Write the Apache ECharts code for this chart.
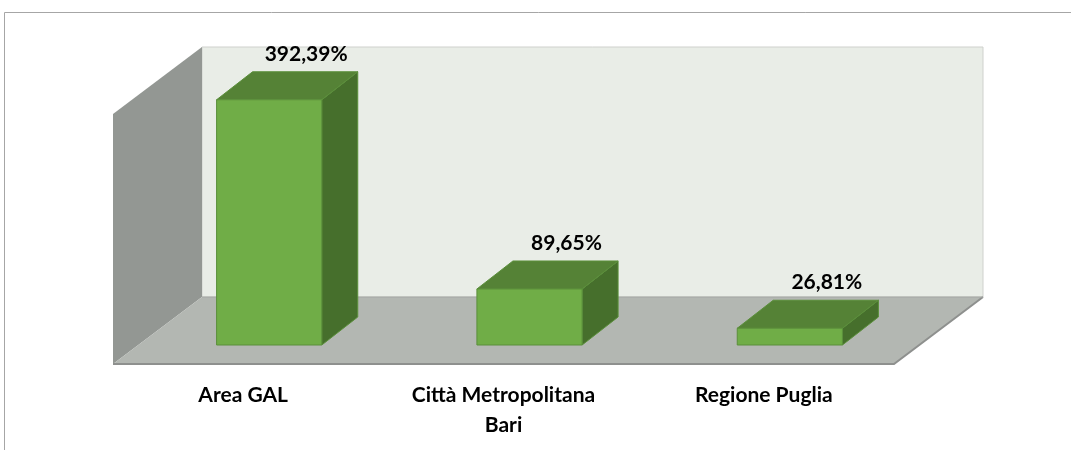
<!DOCTYPE html>
<html>
<head>
<meta charset="utf-8">
<script src="https://cdn.jsdelivr.net/npm/echarts@6/dist/echarts.min.js"></script>
<style>
  html, body { margin: 0; padding: 0; background: #fff; }
  #chart { width: 1071px; height: 450px; }
</style>
</head>
<body>
<div id="chart"></div>
<script>
const CATEGORIES = ["Area GAL", "Città Metropolitana\nBari", "Regione Puglia"];
const VALUES = [392.39, 89.65, 26.81];
const VALUE_LABELS = ["392,39%", "89,65%", "26,81%"];
const Y_MAX = 400;

// 3D look: offsets from the bar-front plane (the grid) to the floor front and the back wall
const FRONT = [-26, 19];
const BACK = [63, -48];
const BAR_DEPTH = [36, -28];
const FONT = "Lato, 'Open Sans', sans-serif";

const chart = echarts.init(document.getElementById("chart"), null, { renderer: "canvas" });

function renderWalls(params) {
  const cs = params.coordSys;
  const l = cs.x, r = cs.x + cs.width, t = cs.y, b = cs.y + cs.height;
  return {
    type: "group",
    children: [
      {
        type: "rect",
        shape: { x: l + BACK[0], y: t + BACK[1], width: cs.width, height: cs.height },
        style: { fill: "#e9ede7", stroke: "#cfd1cd", lineWidth: 1 },
      },
      {
        type: "polygon",
        shape: { points: [[l + FRONT[0], t + FRONT[1]], [l + BACK[0], t + BACK[1]], [l + BACK[0], b + BACK[1]], [l + FRONT[0], b + FRONT[1]]] },
        style: { fill: "#939793" },
      },
      {
        type: "polygon",
        shape: { points: [[l + FRONT[0], b + FRONT[1]], [l + BACK[0], b + BACK[1]], [r + BACK[0], b + BACK[1]], [r + FRONT[0], b + FRONT[1]]] },
        style: { fill: "#b3b7b2" },
      },
      {
        type: "polyline",
        shape: { points: [[l + FRONT[0], b + FRONT[1]], [r + FRONT[0], b + FRONT[1]], [r + BACK[0], b + BACK[1]]] },
        style: { stroke: "#8e908e", lineWidth: 2, fill: null },
      },
      {
        type: "line",
        shape: { x1: l + BACK[0], y1: b + BACK[1], x2: r + BACK[0], y2: b + BACK[1] },
        style: { stroke: "#a4a6a3", lineWidth: 1 },
      },
    ],
  };
}

function renderBar(params, api) {
  const idx = api.value(0);
  const base = api.coord([idx, 0]);
  const top = api.coord([idx, api.value(1)]);
  const w = api.size([1, 0])[0] * 0.404;
  const l = base[0] - w / 2, r = base[0] + w / 2;
  const [dx, dy] = BAR_DEPTH;
  const edge = { stroke: "#5b8f3b", lineWidth: 1 };
  return {
    type: "group",
    children: [
      {
        type: "polygon",
        shape: { points: [[r, top[1]], [r + dx, top[1] + dy], [r + dx, base[1] + dy], [r, base[1]]] },
        style: { fill: "#466f2c", ...edge },
      },
      {
        type: "polygon",
        shape: { points: [[l, top[1]], [l + dx, top[1] + dy], [r + dx, top[1] + dy], [r, top[1]]] },
        style: { fill: "#558236", ...edge },
      },
      {
        type: "rect",
        shape: { x: l, y: top[1], width: w, height: base[1] - top[1] },
        style: { fill: "#70ad47", ...edge },
      },
      {
        type: "text",
        style: {
          x: base[0] + dx + 1,
          y: top[1] + dy - 18,
          text: VALUE_LABELS[idx],
          fill: "#000",
          font: `bold 21px ${FONT}`,
          align: "center",
          verticalAlign: "middle",
        },
      },
    ],
  };
}

const option = {
  animation: false,
  backgroundColor: "#fff",
  graphic: [
    {
      type: "rect",
      shape: { x: 4.5, y: 12.5, width: 1200, height: 500 },
      style: { fill: null, stroke: "#a6a6a6", lineWidth: 1 },
      z: 100,
    },
  ],
  grid: { left: 139, right: 151, top: 95, bottom: 105 },
  xAxis: {
    type: "category",
    data: CATEGORIES,
    axisLine: { show: false },
    axisTick: { show: false },
    splitLine: { show: false },
    axisLabel: {
      margin: 35,
      interval: 0,
      color: "#000",
      fontFamily: FONT,
      fontWeight: "bold",
      fontSize: 21,
      lineHeight: 30,
      padding: [0, 52, 0, 0],
    },
  },
  yAxis: {
    type: "value",
    min: 0,
    max: Y_MAX,
    show: false,
    splitLine: { show: false },
  },
  series: [
    {
      type: "custom",
      renderItem: renderWalls,
      data: [[0, 0]],
      encode: { x: 0, y: 1 },
      z: 1,
      silent: true,
    },
    {
      type: "custom",
      renderItem: renderBar,
      data: VALUES.map((v, i) => [i, v]),
      encode: { x: 0, y: 1 },
      z: 2,
    },
  ],
};

chart.setOption(option);
</script>
</body>
</html>
